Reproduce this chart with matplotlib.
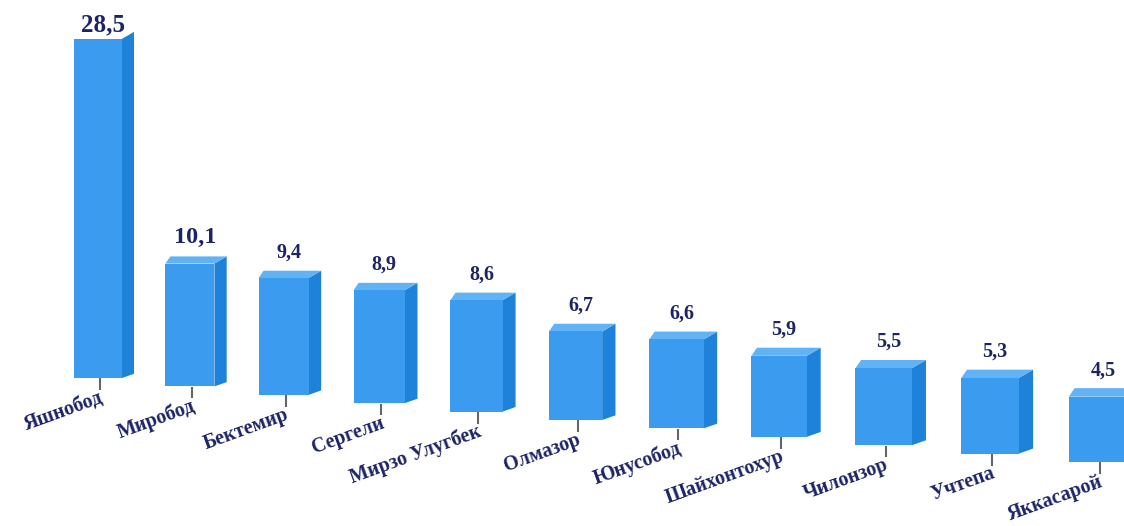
import matplotlib.pyplot as plt
from matplotlib.patches import Polygon
import numpy as np

# Data
districts = ["Яшнобод", "Миробод", "Бектемир", "Сергели", "Мирзо Улугбек", "Олмазор",
             "Юнусобод", "Шайхонтохур", "Чилонзор", "Учтепа", "Яккасарой"]
values = [28.5, 10.1, 9.4, 8.9, 8.6, 6.7, 6.6, 5.9, 5.5, 5.3, 4.5]
value_labels = ["28,5", "10,1", "9,4", "8,9", "8,6", "6,7", "6,6", "5,9", "5,5", "5,3", "4,5"]

# Style / perspective settings
front_color = "#3a9bef"
side_color = "#1f82da"
top_color = "#62b3f6"
text_color = "#1d2466"
px_x = 91.0    # pixels per x unit
px_y = 11.9    # pixels per value unit

idx = np.arange(len(values))
persp = 1 + 0.022 * idx                     # bars grow slightly to the right
pos = idx + 0.0099 * idx ** 2               # spacing grows too
base = -8.4 * idx / px_y                    # tilted baseline
heights = np.array(values) * persp
width = 48 / px_x * persp
front_x = pos - 2 / px_x
dx = 12 / px_x * persp
dy = 7 / px_y * persp

fig = plt.figure(figsize=(11.24, 5.26), dpi=100)
ax = fig.add_axes([0, 0, 1, 1])
ax.set_xlim(-100 / px_x, 1024 / px_x)
ax.set_ylim(378 / px_y - 526 / px_y, 378 / px_y)
ax.axis("off")

# front faces
ax.bar(front_x, heights, width, bottom=base, color=front_color, zorder=3)

for i in idx:
    l = front_x[i] - width[i] / 2
    r = front_x[i] + width[i] / 2
    b = base[i]
    t = base[i] + heights[i]
    # side face
    ax.add_patch(Polygon([(r, b), (r + dx[i], b + dy[i] * 0.6), (r + dx[i], t + dy[i]), (r, t)],
                         closed=True, color=side_color, zorder=2, lw=0))
    # top face (not visible on the tallest bar)
    if i > 0:
        ax.add_patch(Polygon([(l, t), (r, t), (r + dx[i], t + dy[i]), (l + dx[i] * 0.4, t + dy[i])],
                             closed=True, color=top_color, zorder=2, lw=0))
    # tick
    ax.vlines(pos[i], b - 12 / px_y, b - 0.3 / px_y, color="#666666", lw=1.5, zorder=1)
    # value label
    size = 18 if i == 0 else (17.5 if i == 1 else 14.5)
    gap = 3 if i == 0 else 8 + dy[i] * px_y
    ax.text(pos[i] + 3 / px_x, t + gap / px_y, value_labels[i], ha="center", va="bottom",
            fontsize=size, fontweight="bold", family="Liberation Serif", color=text_color)
    # category label
    ax.text(pos[i] - 1 / px_x, b - 10 / px_y, districts[i], ha="right", va="top",
            rotation=20, rotation_mode="anchor", fontsize=14.5, fontweight="bold",
            family="Liberation Serif", color=text_color)

fig.savefig("out.png", dpi=100)
